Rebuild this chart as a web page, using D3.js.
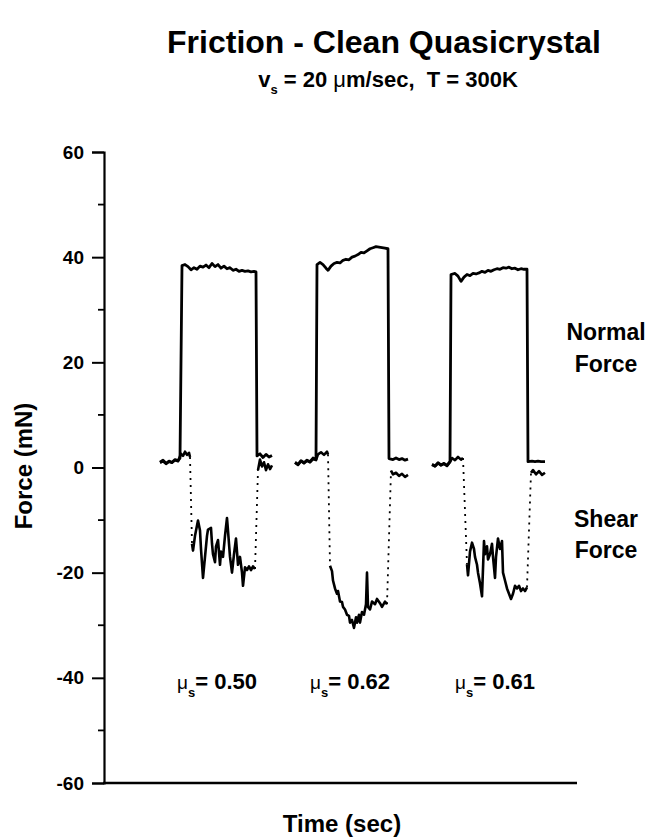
<!DOCTYPE html>
<html>
<head>
<meta charset="utf-8">
<script src="https://cdn.jsdelivr.net/npm/d3@7"></script>
<style>
  body{margin:0;background:#fff}
  svg text{font-family:"Liberation Sans",Arial,Helvetica,sans-serif;fill:#000;white-space:pre}
</style>
</head>
<body>
<svg id="chart" width="650" height="839"></svg>
<script>
// data: [time (s), force (mN)]
var normal1=[[21.5,1.0],[23,1.4],[24.5,0.8],[26,1.2],[27.5,1.0],[29,1.5],[30.5,1.3],[31.5,1.8],[32.5,38.4],[34,38.6],[35.5,38.2],[37,37.6],[38.5,38.0],[40,37.7],[41.5,38.3],[43,38.1],[44.5,38.5],[46,38.0],[47.5,38.8],[49,38.2],[50.5,38.6],[52,37.9],[53.5,38.3],[55,37.8],[56.5,38.0],[58,37.5],[59.5,37.7],[61,37.3],[62.5,37.5],[64,37.3],[65.5,37.4],[67,37.2],[68.5,37.3],[69.5,37.2],[70,2.2],[71.5,2.6],[73,1.9],[74.5,2.5],[76,2.0],[77.5,2.3]]
var shear1=[[21.5,0.9],[23,1.2],[24.5,0.7],[26,1.1],[27.5,0.9],[29,1.4],[30.5,1.2],[32,2.6],[33,2.2],[34,3.0],[35,2.4],[36,2.8],[36.5,2.0],
  [37.5,-14.5],[38,-15.8],[39,-13],[40.5,-10.1],[41.5,-12],[42,-15.5],[43,-21],[44,-17],[45,-13],[45.5,-11.8],[47,-11.5],[47.5,-14.5],[48,-16.5],[49,-18],[49.5,-15],[50.5,-13.8],[51.5,-18.5],[52,-16],[53,-17],[54,-13],[55,-9.6],[55.5,-12],[56.5,-17],[57.5,-20],[58.5,-16.5],[59.5,-13.5],[60.5,-18.5],[61.5,-17],[62.5,-20],[63,-22.5],[64,-19],[65,-19.5],[66,-18.8],[67,-19.5],[68,-18.8],[69,-19.3],
  [70.5,-0.5],[71.5,1.5],[72.5,0.2],[73.5,1.0],[74.5,-0.5],[75.5,0.6],[76.5,-0.3],[77.5,0.4]]
var normal2=[[89,1.0],[90.5,0.6],[92,1.3],[93.5,0.9],[95,1.4],[96.5,1.1],[98,1.8],[99.5,1.5],[100,38.6],[101.5,39.0],[103,38.6],[104.5,37.9],[105.5,37.5],[107,38.3],[108.5,38.8],[110,39.0],[111.5,38.9],[113,39.4],[114.5,39.6],[116,39.5],[117.5,40.0],[119,40.2],[120.5,40.5],[122,40.9],[123.5,40.8],[125,41.2],[126.5,41.6],[128,41.8],[129.5,42.0],[131,41.9],[132.5,41.8],[134,41.7],[135.5,41.6],[136,1.7],[138,1.5],[139.5,1.8],[141,1.5],[142.5,1.7],[144,1.4],[145.5,1.6]]
var shear2=[[89,0.9],[90.5,0.5],[92,1.2],[93.5,0.8],[95,1.3],[96.5,1.0],[98,1.6],[99.5,1.4],[100.5,2.5],[102,2.9],[103.5,2.4],[105,3.0],[105.5,2.5],
  [106.5,-18.7],[107.5,-19.7],[108,-21.5],[109,-23],[110,-24],[110.5,-23.5],[111.5,-25.5],[112.5,-25.6],[113,-26.5],[114,-27],[115,-28],[116,-28.2],[116.5,-29.5],[117.5,-29],[118.5,-30.5],[119.5,-28.5],[120,-29.5],[121,-28],[121.5,-29.5],[122.5,-27.5],[123.5,-28],[124.5,-26],[125,-20],[125.5,-26.5],[126.5,-27],[127.5,-25.5],[129,-26],[130,-25],[131.5,-25.8],[132.5,-26.5],[134,-25.5],[135,-26],
  [137,-0.6],[138,-1.3],[139.5,-1.0],[141,-1.6],[142.5,-1.2],[144,-1.8],[145.5,-1.4]]
var normal3=[[157.5,0.6],[159,0.3],[160.5,0.9],[162,0.5],[163.5,0.8],[165,0.4],[166.5,1.2],[167,36.7],[169,36.9],[170.5,36.4],[172,35.4],[173.5,36.2],[175,36.7],[176.5,36.5],[178,36.9],[179.5,36.8],[181,37.0],[182.5,37.3],[184,37.1],[185.5,37.5],[187,37.3],[188.5,37.6],[190,37.8],[191.5,37.7],[193,38.0],[194.5,37.9],[196,38.1],[197.5,37.8],[199,37.9],[200.5,37.6],[202,37.8],[203.5,37.7],[205,37.7],[205.5,1.1],[207.5,1.2],[209,1.1],[210.5,1.2],[212,1.1],[214,1.1]]
var shear3=[[157.5,0.5],[159,0.2],[160.5,0.8],[162,0.4],[163.5,0.7],[165,0.3],[166.5,1.0],[167.5,1.8],[169,1.4],[170.5,2.0],[172,1.5],[173,1.8],
  [175,-18.4],[175.5,-20.5],[176.5,-16],[177.5,-14.3],[178.5,-15.5],[179,-17],[180,-18.5],[180.5,-20],[181.5,-22],[182.5,-24.5],[183.5,-14],[184,-16.5],[185,-15],[185.5,-17.5],[186.5,-16.5],[187.5,-14.5],[188,-17],[189,-21],[189.5,-17],[190.5,-13.5],[191.5,-15.5],[192.5,-14],[193,-20],[194,-21.5],[195,-23],[196,-24],[197,-25],[198,-24],[199,-22.5],[200,-23],[201,-22.5],[202,-23.5],[203,-23],[204,-23.5],[205,-22.8],
  [207,-1.0],[208,-0.5],[209.5,-1.3],[211,-0.7],[212.5,-1.4],[214,-1.0]]
var normalRuns=[normal1,normal2,normal3]
var shearRuns=[shear1,shear2,shear3]
var muLabels=[{t:30,mu:'0.50'},{t:96.5,mu:'0.62'},{t:169,mu:'0.61'}]
var yTicks=[-60,-40,-20,0,20,40,60]
var yMinor=[-50,-30,-10,10,30,50]

var svg=d3.select('#chart')
var x=d3.scaleLinear().domain([-6.5,230]).range([104,577])
var y=d3.scaleLinear().domain([-60,60]).range([783,152])
var line=d3.line().x(d=>x(d[0])).y(d=>y(d[1]))

// axes
var yAxis=d3.axisLeft(y).tickValues(yTicks).tickSize(12).tickPadding(8).tickFormat(d=>String(d))
var gy=svg.append('g').attr('transform','translate(104,0)').call(yAxis)
gy.select('.domain').attr('stroke-width',2.2)
gy.selectAll('.tick line').attr('stroke-width',2)
gy.selectAll('.tick text').attr('font-size',19).attr('font-weight','bold')
gy.selectAll('.minor').data(yMinor).join('line')
  .attr('x1',-6).attr('x2',0).attr('y1',d=>y(d)).attr('y2',d=>y(d))
  .attr('stroke','#000').attr('stroke-width',1.8)
svg.append('line').attr('x1',x(-6.5)-1).attr('x2',x(230)).attr('y1',y(-60)).attr('y2',y(-60))
  .attr('stroke','#000').attr('stroke-width',2.4)

// normal force: solid traces
svg.selectAll('.normal').data(normalRuns).join('path')
  .attr('class','normal').attr('d',line)
  .attr('fill','none').attr('stroke','#000').attr('stroke-width',2.8).attr('stroke-linejoin','round')

// shear force: solid plateaus, dotted jumps
shearRuns.forEach(run=>{
  var seg=[run[0]]
  for(let i=1;i<run.length;i++){
    var a=run[i-1],b=run[i]
    if(Math.abs(b[1]-a[1])>12){
      svg.append('path').attr('d',line(seg)).attr('fill','none')
        .attr('stroke','#000').attr('stroke-width',2.6).attr('stroke-linejoin','round')
      svg.append('path').attr('d',line([a,b])).attr('fill','none')
        .attr('stroke','#000').attr('stroke-width',1.8).attr('stroke-dasharray','2,5')
      seg=[b]
    }else seg.push(b)
  }
  svg.append('path').attr('d',line(seg)).attr('fill','none')
    .attr('stroke','#000').attr('stroke-width',2.6).attr('stroke-linejoin','round')
})

// titles
svg.append('text').attr('x',384).attr('y',53).attr('text-anchor','middle')
  .attr('font-size',32).attr('font-weight','bold').text('Friction - Clean Quasicrystal')
var sub=svg.append('text').attr('x',388).attr('y',87).attr('text-anchor','middle')
  .attr('font-size',22).attr('font-weight','bold')
sub.append('tspan').text('v')
sub.append('tspan').attr('dy',7).attr('font-size',13).text('s')
sub.append('tspan').attr('dy',-7).text(' = 20 ')
sub.append('tspan').attr('font-weight','normal').text('μ')
sub.append('tspan').text('m/sec,  T = 300K')

svg.append('text').attr('transform','translate(32,466) rotate(-90)').attr('text-anchor','middle')
  .attr('font-size',24).attr('font-weight','bold').text('Force (mN)')
svg.append('text').attr('x',342).attr('y',832).attr('text-anchor','middle')
  .attr('font-size',24).attr('font-weight','bold').text('Time (sec)')

// trace labels
;[['Normal',340],['Force',372],['Shear',527],['Force',558]].forEach(([s,yy])=>{
  svg.append('text').attr('x',606).attr('y',yy).attr('text-anchor','middle')
    .attr('font-size',23).attr('font-weight','bold').text(s)
})

// friction coefficients
muLabels.forEach(d=>{
  var t=svg.append('text').attr('x',x(d.t)).attr('y',689).attr('font-size',22).attr('font-weight','bold')
  t.append('tspan').attr('font-weight','normal').attr('font-size',19).text('μ')
  t.append('tspan').attr('dy',8).attr('font-size',13).text('s')
  t.append('tspan').attr('dy',-8).text('= '+d.mu)
})
</script>
</body>
</html>
